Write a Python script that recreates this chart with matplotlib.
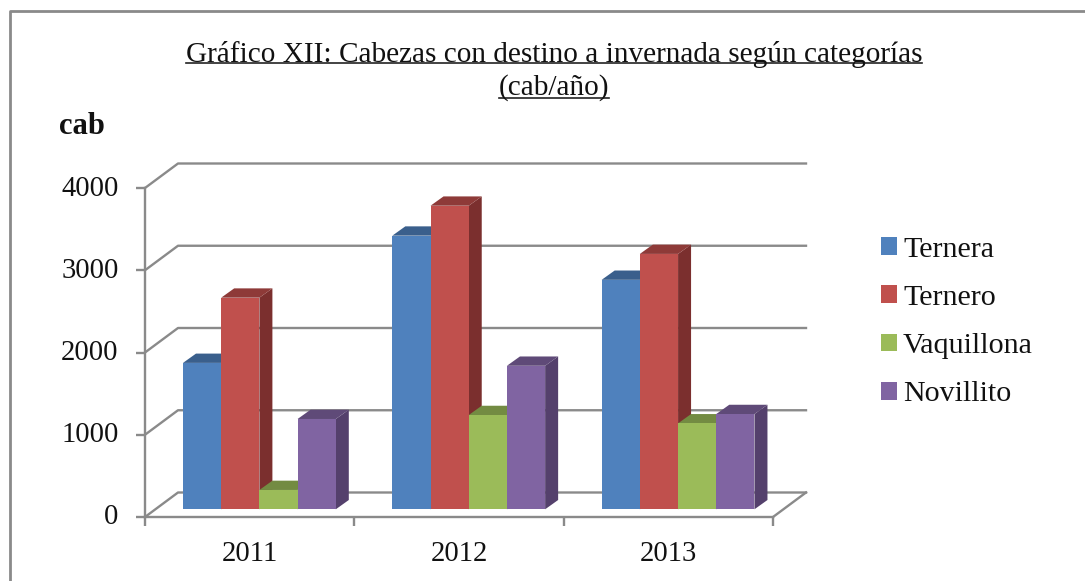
import matplotlib
matplotlib.use('Agg')
import matplotlib.pyplot as plt
from matplotlib.lines import Line2D
from matplotlib.patches import Patch, Polygon
from matplotlib.transforms import ScaledTranslation

years = ['2011', '2012', '2013']
series = ['Ternera', 'Ternero', 'Vaquillona', 'Novillito']
ternera = [1780, 3327, 2790]
ternero = [2573, 3691, 3105]
vaquillona = [235, 1146, 1045]
novillito = [1098, 1745, 1158]
yticks = [0, 1000, 2000, 3000, 4000]

front = ['#4F81BD', '#C0504D', '#9BBB59', '#8064A2']
top = ['#3A5F8C', '#8E3A38', '#738B42', '#5F4A78']
side = ['#33527A', '#7B2F2E', '#64793A', '#54406C']
grey = '#8A8A8A'

W, H = 1085, 581
plt.rcParams['font.family'] = ['Liberation Serif', 'DejaVu Serif']
plt.rcParams['font.size'] = 20.6
plt.rcParams['text.color'] = '#111111'
plt.rcParams['xtick.labelcolor'] = '#111111'
plt.rcParams['ytick.labelcolor'] = '#111111'

fig = plt.figure(figsize=(W / 100, H / 100), dpi=100)
# front plane of the fake 3d box
ax = fig.add_axes([145 / W, 1 - 517 / H, (773 - 145) / W, (517 - 188) / H])
ax.set_xlim(0, 3)
ax.set_ylim(0, 4000)
ax.patch.set_alpha(0)

px_x = 3 / (773 - 145)   # one pixel in x data units
px_y = 4000 / (517 - 188)  # one pixel in y data units

# back wall and floor
wall_dx, wall_dy = 33 * px_x, 24.5 * px_y
for v in yticks:
    ax.plot([0, wall_dx, 3 + wall_dx], [v, v + wall_dy, v + wall_dy],
            color=grey, lw=1.7, clip_on=False, zorder=1)
ax.plot([3, 3 + wall_dx], [0, wall_dy], color=grey, lw=1.7, clip_on=False, zorder=1)

# bars
base = 7.7 * px_y
width = 38.2 * px_x
start = 38 * px_x
bar_dx, bar_dy = 13 * px_x, 9.3 * px_y
z = 2
for i, vals in enumerate([ternera, ternero, vaquillona, novillito]):
    for j, v in enumerate(vals):
        x0 = j + start + i * width
        x1 = x0 + width
        y1 = base + v
        ax.add_patch(Polygon([(x1, base), (x1 + bar_dx, base + bar_dy), (x1 + bar_dx, y1 + bar_dy), (x1, y1)],
                             fc=side[i], ec='none', clip_on=False, zorder=z))
        ax.add_patch(Polygon([(x0, y1), (x0 + bar_dx, y1 + bar_dy), (x1 + bar_dx, y1 + bar_dy), (x1, y1)],
                             fc=top[i], ec='none', clip_on=False, zorder=z))
        ax.bar(x0, v, width, bottom=base, align='edge', color=front[i], zorder=z + 0.5)
    z += 1

for s in ['top', 'right']:
    ax.spines[s].set_visible(False)
for s in ['left', 'bottom']:
    ax.spines[s].set_color(grey)
    ax.spines[s].set_linewidth(1.7)
    ax.spines[s].set_zorder(10)

ax.set_yticks(yticks)
ax.set_xticks([0, 1, 2, 3])
ax.set_xticklabels([])
ax.set_xticks([0.5, 1.5, 2.5], years, minor=True)
ax.tick_params(axis='both', which='major', color=grey, width=1.7, length=6.5)
ax.tick_params(axis='y', pad=12.5)
ax.tick_params(axis='x', which='minor', length=0, pad=17)

# y labels sit a little above their ticks
up = ScaledTranslation(0, 2.5 / 100, fig.dpi_scale_trans)
for label in ax.get_yticklabels():
    label.set_transform(label.get_transform() + up)

# title
t1 = fig.text(554 / W, 1 - 54.5 / H, 'Gráfico XII: Cabezas con destino a invernada según categorías',
              ha='center', va='center', fontsize=21.1)
t2 = fig.text(554 / W, 1 - 88 / H, '(cab/año)', ha='center', va='center', fontsize=21.1)
fig.text(59 / W, 1 - 127 / H, 'cab', fontweight='bold', ha='left', va='center', fontsize=22)

fig.canvas.draw()
for t, y in [(t1, 63), (t2, 98)]:
    bb = t.get_window_extent()
    fig.add_artist(Line2D([bb.x0 / W, bb.x1 / W], [1 - y / H, 1 - y / H], color='#222222', lw=1.2))

# legend
handles = [Patch(fc=c, ec='none') for c in front]
fig.legend(handles, series, loc='center left', bbox_to_anchor=(881 / W, 1 - 322 / H), frameon=False,
           fontsize=21.6, handlelength=0.535, handleheight=0.535, handletextpad=0.2,
           labelspacing=0.74, borderpad=0, borderaxespad=0)

# chart border, the right and bottom edges are cut off in the picture
fig.add_artist(Line2D([9.5 / W, 9.5 / W, 1], [0, 1 - 10.5 / H, 1 - 10.5 / H], color=grey, lw=2))

fig.savefig('out.png', dpi=100)
